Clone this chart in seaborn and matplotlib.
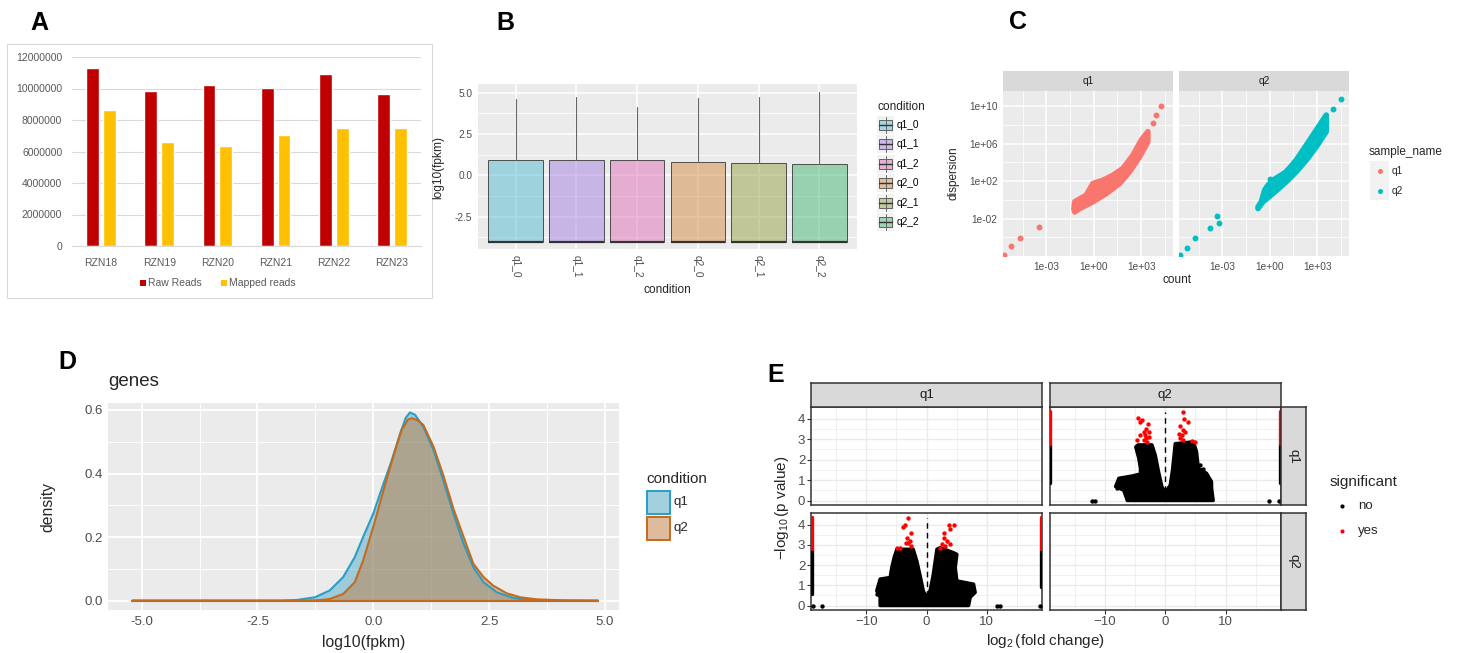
import matplotlib
matplotlib.use("Agg")
import matplotlib.pyplot as plt
from matplotlib.patches import Rectangle
from matplotlib.lines import Line2D
from matplotlib.ticker import FixedLocator, NullFormatter
import numpy as np
import pandas as pd
import seaborn as sns

sns.set_style("white")
plt.rcParams["font.family"] = ["Liberation Sans", "DejaVu Sans"]
plt.rcParams["mathtext.fontset"] = "custom"
plt.rcParams["mathtext.rm"] = "Liberation Sans"
plt.rcParams["mathtext.it"] = "Liberation Sans:italic"
plt.rcParams["mathtext.default"] = "regular"

# ---- panel A: read counts
a_samples = ["RZN18", "RZN19", "RZN20", "RZN21", "RZN22", "RZN23"]
a_raw = [11280000, 9860000, 10200000, 10050000, 10920000, 9630000]
a_mapped = [8630000, 6580000, 6350000, 7030000, 7470000, 7510000]

# ---- panel B: log10(fpkm) boxes
b_conditions = ["q1_0", "q1_1", "q1_2", "q2_0", "q2_1", "q2_2"]
b_q1 = [-4.02, -4.02, -4.02, -4.02, -4.02, -4.02]
b_median = [-4.02, -4.02, -4.02, -4.02, -4.02, -4.02]
b_q3 = [0.91, 0.91, 0.95, 0.83, 0.75, 0.71]
b_whislo = [-4.02, -4.02, -4.02, -4.02, -4.02, -4.02]
b_whishi = [4.62, 4.74, 4.15, 4.66, 4.74, 5.04]
b_colors = ["#53BBD1", "#A581E1", "#E171B9", "#D38B45", "#99A349", "#45B977"]

# ---- panel C: dispersion vs count (log10 units)
c_q1_cloud_x = [-1.25, -1.2, -0.47, -0.05, 0.59, 1.22, 1.85, 2.49, 3.01, 3.43,
                3.43, 2.91, 2.27, 1.64, 0.80, -0.05, -0.89, -1.2]
c_q1_cloud_y = [-1.0, -0.2, 0.5, 1.75, 2.1, 2.64, 3.36, 4.79, 6.39, 7.29,
                6.21, 4.61, 3.0, 1.75, 0.68, -0.21, -0.93, -1.29]
c_q1_pts_x = [-5.68, -5.26, -4.65, -3.46, 3.75, 3.92, 4.24]
c_q1_pts_y = [-5.86, -4.93, -4.07, -2.86, 8.25, 9.07, 10.0]
c_q2_cloud_x = [-0.74, -0.53, -0.32, -0.11, 0.21, 1.05, 1.68, 2.32, 2.95, 3.58,
                3.58, 2.95, 2.32, 1.68, 1.05, 0.21, -0.43, -0.74]
c_q2_cloud_y = [-0.75, -0.21, 1.04, 1.57, 2.11, 3.0, 4.25, 5.86, 7.46, 9.07,
                7.29, 5.68, 4.25, 3.0, 1.93, 0.68, -0.21, -0.93]
c_q2_pts_x = [-5.70, -5.22, -4.75, -3.76, -3.34, -3.21, 4.0, 4.53, 0.0, 1.1]
c_q2_pts_y = [-5.86, -5.11, -4.11, -3.0, -1.75, -2.46, 9.68, 10.79, 2.2, 3.2]

# ---- panel D: density of log10(fpkm)
d_q1_x = [-5.2, -2.0, -1.65, -1.26, -0.94, -0.65, -0.40, -0.22, 0.0, 0.22, 0.40,
          0.58, 0.70, 0.79, 0.90, 1.08, 1.30, 1.51, 1.73, 1.95, 2.16, 2.38, 2.67,
          3.03, 3.38, 3.74, 4.85]
d_q1_y = [0, 0, 0.002, 0.0105, 0.032, 0.074, 0.137, 0.20, 0.274, 0.368, 0.442,
          0.526, 0.575, 0.592, 0.585, 0.547, 0.474, 0.379, 0.274, 0.179, 0.105,
          0.058, 0.026, 0.008, 0.002, 0.0, 0.0]
d_q2_x = [-5.2, -1.5, -1.2, -0.94, -0.65, -0.40, -0.22, 0.0, 0.22, 0.43, 0.61,
          0.75, 0.83, 0.95, 1.08, 1.30, 1.51, 1.73, 1.95, 2.16, 2.38, 2.59, 2.88,
          3.17, 3.53, 4.1, 4.85]
d_q2_y = [0, 0, 0.001, 0.005, 0.021, 0.058, 0.126, 0.232, 0.347, 0.453, 0.537,
          0.570, 0.574, 0.568, 0.553, 0.484, 0.395, 0.289, 0.20, 0.116, 0.074,
          0.047, 0.023, 0.0105, 0.004, 0.001, 0.0]

# ---- panel E: volcano (row q1 / col q2 and row q2 / col q1)
e12_cloud_x = [-6.3, -6.9, -8.25, -7.7, -5.5, -4.12, -4.12, -4.4, -4.9, -4.5,
               -2.2, -1.65, -1.1, -0.55, 0.0, 0.82, 1.2, 1.65, 4.67, 5.2, 5.5,
               6.86, 7.68, 7.7, 7.96]
e12_cloud_y = [0, 0.5, 0.68, 1.09, 1.2, 1.3, 1.57, 2.06, 2.62, 2.72,
               2.72, 2.22, 1.4, 0.68, 0.4, 0.75, 1.5, 2.78, 2.87, 2.38, 1.57,
               1.33, 0.92, 0.6, 0]
e12_black_x = [-12.1, -11.7, 17.2, 18.9, 5.2, 5.8, 6.3, -7.97]
e12_black_y = [0, 0, 0, 0, 1.65, 1.75, 1.55, 0.63]
e12_red_x = [-4.56, -3.85, -4.12, -2.91, -3.13, -2.75, -3.57, -3.3, -2.75, -4.12,
             -4.67, -3.57, -3.02, -3.13, 2.91, 3.19, 3.85, 2.47, 3.02, 2.36, 2.75,
             3.3, 2.47, 3.02, 4.4, 4.95]
e12_red_y = [4.05, 3.95, 3.84, 3.76, 3.51, 3.35, 3.35, 3.19, 3.11, 3.19, 2.95,
             2.95, 2.87, 3.03, 4.32, 4.0, 3.84, 3.63, 3.43, 3.27, 3.19, 3.35,
             3.03, 2.98, 2.9, 2.87]
e12_stripe_x = [-19.05, -19.05, 19.05, 19.05]
e12_stripe_lo = [0.84, 2.78, 0.84, 2.78]
e12_stripe_hi = [2.78, 4.35, 2.78, 4.35]
e12_stripe_sig = ["no", "yes", "no", "yes"]

e21_cloud_x = [-7.72, -7.72, -8.28, -7.72, -6.05, -5.78, -5.39, -4.94, -2.2,
               -1.6, -1.0, -0.5, 0.0, 0.6, 1.1, 1.72, 2.28, 4.5, 5.06, 4.78,
               5.06, 7.83, 8.1, 7.28, 7.0]
e21_cloud_y = [0, 0.41, 0.73, 1.31, 1.39, 1.88, 2.37, 2.78, 2.78, 2.2, 1.4,
               0.7, 0.45, 0.75, 1.5, 2.78, 2.86, 2.61, 2.53, 1.88, 1.22,
               1.06, 0.65, 0.41, 0]
e21_black_x = [-17.4, 11.7, 12.3, -8.28, -18.9, 18.9]
e21_black_y = [0, 0, 0, 0.57, 0, 0]
e21_red_x = [-3.0, -3.94, -3.56, -2.56, -3.28, -2.72, -3.39, -2.61, -4.94, -4.4,
             -3.0, 3.67, 4.5, 3.83, 2.83, 2.94, 3.39, 2.61, 3.11, 3.94, 2.28]
e21_red_y = [4.33, 3.89, 4.0, 3.59, 3.35, 3.18, 3.1, 2.94, 2.86, 2.86, 3.1,
             4.0, 4.0, 3.76, 3.59, 3.35, 3.18, 3.02, 2.94, 3.02, 2.86]
e21_stripe_x = [-19.05, -19.05, 19.05, 19.05]
e21_stripe_lo = [0.57, 2.78, 0.9, 2.78]
e21_stripe_hi = [2.78, 4.35, 2.78, 4.35]
e21_stripe_sig = ["no", "yes", "no", "yes"]
e_vline_x = 0
e_vline_top = 4.32
e_colors = {"no": "black", "yes": "#FF0000"}

# ---------------------------------------------------------------------------
W, H = 1466, 653
fig = plt.figure(figsize=(W / 100, H / 100), dpi=100)


def fx(x):
    return x / W


def fy(y):
    return 1 - y / H


def px_axes(x0, y0, x1, y1):
    return fig.add_axes([fx(x0), fy(y1), (x1 - x0) / W, (y1 - y0) / H])


def ftext(x, y, s, **kw):
    kw.setdefault("ha", "center")
    kw.setdefault("va", "center")
    fig.text(fx(x), fy(y), s, **kw)


def frect(x, y, w, h, **kw):
    fig.add_artist(Rectangle((fx(x), fy(y + h)), w / W, h / H,
                             transform=fig.transFigure, **kw))


def fline(xs, ys, **kw):
    fig.add_artist(Line2D([fx(v) for v in xs], [fy(v) for v in ys],
                          transform=fig.transFigure, **kw))


def gg_ticks(ax, size, grid_color, major_lw=1.1, minor_lw=0.55):
    ax.tick_params(which="major", length=2.6, width=0.8, color="#333333",
                   labelcolor="#4D4D4D", labelsize=size, pad=1.5)
    ax.tick_params(which="minor", length=0)
    ax.grid(True, which="major", color=grid_color, lw=major_lw)
    ax.grid(True, which="minor", color=grid_color, lw=minor_lw)
    ax.set_axisbelow(True)


# panel letters
for letter, lx, ly in [("A", 39, 23), ("B", 505, 23), ("C", 1018, 22),
                       ("D", 67, 362), ("E", 776, 375)]:
    ftext(lx, ly, letter, fontsize=18, fontweight="bold", color="black")

# ---------------- A ----------------
frect(7, 44, 425, 254, fill=False, edgecolor="#D9D9D9", lw=0.8)
axA = px_axes(72, 57, 421, 246)
dfA = pd.DataFrame({"sample": a_samples * 2,
                    "reads": a_raw + a_mapped,
                    "type": ["Raw Reads"] * 6 + ["Mapped reads"] * 6})
sns.barplot(data=dfA, x="sample", y="reads", hue="type",
            palette=["#C00000", "#FFC000"], saturation=1, width=0.58, gap=0.24,
            errorbar=None, legend=False, ax=axA)
axA.set_xlim(-0.5, 5.5)
axA.set_ylim(0, 12000000)
a_ticks = list(range(0, 12000001, 2000000))
axA.set_yticks(a_ticks)
axA.set_yticklabels([str(v) for v in a_ticks])
axA.grid(True, axis="y", color="#D9D9D9", lw=0.8)
axA.set_axisbelow(True)
for s in ["top", "right", "left"]:
    axA.spines[s].set_visible(False)
axA.spines["bottom"].set_color("#D9D9D9")
axA.tick_params(length=0, labelsize=7.5, labelcolor="#595959", pad=7)
axA.tick_params(axis="x", pad=9)
axA.set_xlabel("")
axA.set_ylabel("")
frect(140, 280, 6, 6, color="#C00000", lw=0)
ftext(148, 283, "Raw Reads", ha="left", fontsize=7.5, color="#595959")
frect(221, 280, 6, 6, color="#FFC000", lw=0)
ftext(229, 283, "Mapped reads", ha="left", fontsize=7.5, color="#595959")

# ---------------- B ----------------
axB = px_axes(478, 84, 857, 249)
axB.set_facecolor("#EBEBEB")
stats = [dict(label=c, q1=b_q1[i], med=b_median[i], q3=b_q3[i],
              whislo=b_whislo[i], whishi=b_whishi[i])
         for i, c in enumerate(b_conditions)]
bp = axB.bxp(stats, positions=list(range(6)), widths=0.9, patch_artist=True,
             showfliers=False, showcaps=False,
             boxprops=dict(edgecolor="#4D4D4D", lw=0.7),
             medianprops=dict(color="#333333", lw=1.6),
             whiskerprops=dict(color="#666666", lw=0.8))
for patch, col in zip(bp["boxes"], b_colors):
    patch.set_facecolor(matplotlib.colors.to_rgba(col, 0.5))
axB.set_xlim(-0.62, 5.62)
axB.set_ylim(-4.46, 5.52)
axB.set_yticks([-2.5, 0.0, 2.5, 5.0])
axB.set_yticklabels(["-2.5", "0.0", "2.5", "5.0"])
axB.yaxis.set_minor_locator(FixedLocator([-3.75, -1.25, 1.25, 3.75]))
axB.set_xticks(list(range(6)))
axB.set_xticklabels(b_conditions, rotation=270, va="top", ha="center")
for s in axB.spines.values():
    s.set_visible(False)
gg_ticks(axB, 7.3, "white")
ftext(438, 167, "log10(fpkm)", rotation=90, fontsize=8.6)
ftext(667, 290, "condition", fontsize=8.6)
ftext(877, 107, "condition", ha="left", fontsize=8.6)
for i, (c, col) in enumerate(zip(b_conditions, b_colors)):
    yc = 125 + i * 19.4
    frect(877, yc - 9, 17, 18, color="#F2F2F2", lw=0)
    fline([885.5, 885.5], [yc - 8, yc + 8], color="#666666", lw=0.7)
    frect(879, yc - 5, 13, 10, facecolor=matplotlib.colors.to_rgba(col, 0.5),
          edgecolor="#4D4D4D", lw=0.6)
    fline([879, 892], [yc, yc], color="#333333", lw=1.0)
    ftext(897, yc, c, ha="left", fontsize=7.3, color="black")

# ---------------- C ----------------
c_sets = [("q1", 1003, 1173, c_q1_cloud_x, c_q1_cloud_y, c_q1_pts_x, c_q1_pts_y, "#F8766D"),
          ("q2", 1179, 1349, c_q2_cloud_x, c_q2_cloud_y, c_q2_pts_x, c_q2_pts_y, "#00BFC4")]
for k, (name, x0, x1, cx, cy, px, py, col) in enumerate(c_sets):
    ax = px_axes(x0, 91, x1, 256)
    ax.set_facecolor("#EBEBEB")
    ax.set_xscale("log")
    ax.set_yscale("log")
    ax.set_xlim(10 ** -5.74, 10 ** 5.02)
    ax.set_ylim(10 ** -6.0, 10 ** 11.64)
    ax.fill(10 ** np.array(cx), 10 ** np.array(cy), color=col, ec=col, lw=4,
            joinstyle="round", zorder=3)
    sns.scatterplot(x=10 ** np.array(px), y=10 ** np.array(py), color=col, s=18,
                    linewidth=0, ax=ax, legend=False, zorder=4)
    ax.xaxis.set_major_locator(FixedLocator([1e-3, 1e0, 1e3]))
    ax.xaxis.set_minor_locator(FixedLocator([10 ** -4.5, 10 ** -1.5, 10 ** 1.5, 10 ** 4.5]))
    ax.yaxis.set_major_locator(FixedLocator([1e-2, 1e2, 1e6, 1e10]))
    ax.yaxis.set_minor_locator(FixedLocator([1e-4, 1e0, 1e4, 1e8]))
    ax.xaxis.set_minor_formatter(NullFormatter())
    ax.yaxis.set_minor_formatter(NullFormatter())
    ax.set_xticklabels(["1e-03", "1e+00", "1e+03"])
    ax.set_yticklabels(["1e-02", "1e+02", "1e+06", "1e+10"])
    for s in ax.spines.values():
        s.set_visible(False)
    gg_ticks(ax, 7.3, "white")
    if k == 1:
        ax.tick_params(axis="y", left=False, labelleft=False)
    sax = px_axes(x0, 71, x1, 91)
    sax.set_facecolor("#D9D9D9")
    sax.set_xticks([])
    sax.set_yticks([])
    for s in sax.spines.values():
        s.set_visible(False)
    sax.text(0.5, 0.5, name, ha="center", va="center", fontsize=7.3,
             color="#1A1A1A", transform=sax.transAxes)
ftext(953, 173, "dispersion", rotation=90, fontsize=8.5)
ftext(1177, 280, "count", fontsize=8.5)
ftext(1369, 152, "sample_name", ha="left", fontsize=8.5)
for i, (name, col) in enumerate([("q1", "#F8766D"), ("q2", "#00BFC4")]):
    yc = 171 + i * 20
    frect(1370, yc - 9.5, 19, 19, color="#F2F2F2", lw=0)
    fig.add_artist(Line2D([fx(1379.5)], [fy(yc)], marker="o", markersize=3.6,
                          color=col, mec="none", transform=fig.transFigure))
    ftext(1392, yc, name, ha="left", fontsize=7.3)

# ---------------- D ----------------
axD = px_axes(108.3, 403.3, 619.3, 610)
axD.set_facecolor("#EBEBEB")
dfD = pd.DataFrame({"x": d_q1_x + d_q2_x, "y": d_q1_y + d_q2_y,
                    "condition": ["q1"] * len(d_q1_x) + ["q2"] * len(d_q2_x)})
d_cols = {"q1": "#2A9DC4", "q2": "#C46A1E"}
for cond in ["q1", "q2"]:
    sub = dfD[dfD["condition"] == cond]
    axD.fill_between(sub["x"], 0, sub["y"], color=d_cols[cond], alpha=0.4, lw=0, zorder=2)
    sns.lineplot(x=sub["x"], y=sub["y"], color=d_cols[cond], lw=1.5, sort=False,
                 estimator=None, ax=axD, legend=False, zorder=3)
    axD.plot([sub["x"].min(), sub["x"].max()], [0, 0], color=d_cols[cond], lw=1.5, zorder=3)
axD.set_xlim(-5.72, 5.31)
axD.set_ylim(-0.0295, 0.621)
axD.set_xticks([-5.0, -2.5, 0.0, 2.5, 5.0])
axD.set_xticklabels(["-5.0", "-2.5", "0.0", "2.5", "5.0"])
axD.xaxis.set_minor_locator(FixedLocator([-3.75, -1.25, 1.25, 3.75]))
axD.set_yticks([0.0, 0.2, 0.4, 0.6])
axD.set_yticklabels(["0.0", "0.2", "0.4", "0.6"])
axD.yaxis.set_minor_locator(FixedLocator([0.1, 0.3, 0.5]))
axD.set_xlabel("")
axD.set_ylabel("")
for s in axD.spines.values():
    s.set_visible(False)
gg_ticks(axD, 9.5, "white", 1.3, 0.65)
ftext(108, 382, "genes", ha="left", fontsize=13.5)
ftext(48, 507, "density", rotation=90, fontsize=11.3)
ftext(364, 643, "log10(fpkm)", fontsize=11.3)
ftext(646, 479, "condition", ha="left", fontsize=11)
for i, cond in enumerate(["q1", "q2"]):
    yt = 491 + i * 26
    frect(646.5, yt, 23.5, 23, facecolor="#F2F2F2", lw=0)
    frect(646.5, yt, 23.5, 23, facecolor=matplotlib.colors.to_rgba(d_cols[cond], 0.4),
          edgecolor=d_cols[cond], lw=1.4)
    ftext(674, yt + 11.5, cond, ha="left", fontsize=9.5)

# ---------------- E ----------------
e_cols = [(811, 1042), (1049.5, 1281)]
e_rows = [(407, 505), (513, 610)]
e_data = {(0, 1): (e12_cloud_x, e12_cloud_y, e12_black_x, e12_black_y, e12_red_x,
                   e12_red_y, e12_stripe_x, e12_stripe_lo, e12_stripe_hi, e12_stripe_sig),
          (1, 0): (e21_cloud_x, e21_cloud_y, e21_black_x, e21_black_y, e21_red_x,
                   e21_red_y, e21_stripe_x, e21_stripe_lo, e21_stripe_hi, e21_stripe_sig)}
for r, (y0, y1) in enumerate(e_rows):
    for c, (x0, x1) in enumerate(e_cols):
        ax = px_axes(x0, y0, x1, y1)
        ax.set_facecolor("white")
        ax.set_xlim(-19.2, 19.2)
        ax.set_ylim(-0.2175, 4.5675)
        ax.set_xticks([-10, 0, 10])
        ax.xaxis.set_minor_locator(FixedLocator([-15, -5, 5, 15]))
        ax.set_yticks([0, 1, 2, 3, 4])
        ax.yaxis.set_minor_locator(FixedLocator([0.5, 1.5, 2.5, 3.5]))
        gg_ticks(ax, 9.5, "#EBEBEB", 1.0, 0.5)
        for s in ax.spines.values():
            s.set_color("#333333")
            s.set_linewidth(1.1)
        ax.tick_params(bottom=(r == 1), labelbottom=(r == 1),
                       left=(c == 0), labelleft=(c == 0))
        if (r, c) in e_data:
            (cx, cy, bx, by, rx, ry, sx, slo, shi, ssig) = e_data[(r, c)]
            ax.fill(cx, cy, color="black", ec="black", lw=2.4, joinstyle="round", zorder=3)
            sns.scatterplot(x=bx, y=by, color="black", s=10, linewidth=0, ax=ax,
                            legend=False, zorder=4)
            sns.scatterplot(x=rx, y=ry, color=e_colors["yes"], s=10, linewidth=0, ax=ax,
                            legend=False, zorder=5)
            lc = ax.vlines(sx, slo, shi, colors=[e_colors[v] for v in ssig], lw=2.4, zorder=5)
            lc.set_capstyle("round")
            ax.vlines([e_vline_x], [0], [e_vline_top], colors="black", lw=1.0,
                      linestyles=(0, (4, 3)), zorder=6)
        ax.set_xlabel("")
        ax.set_ylabel("")
for c, (x0, x1) in enumerate(e_cols):
    sax = px_axes(x0, 383, x1, 407)
    sax.set_facecolor("#D9D9D9")
    sax.set_xticks([])
    sax.set_yticks([])
    for s in sax.spines.values():
        s.set_color("#333333")
        s.set_linewidth(1.1)
    sax.text(0.5, 0.5, ["q1", "q2"][c], ha="center", va="center", fontsize=9.5,
             color="#1A1A1A", transform=sax.transAxes)
for r, (y0, y1) in enumerate(e_rows):
    sax = px_axes(1281, y0, 1306, y1)
    sax.set_facecolor("#D9D9D9")
    sax.set_xticks([])
    sax.set_yticks([])
    for s in sax.spines.values():
        s.set_color("#333333")
        s.set_linewidth(1.1)
    sax.text(0.5, 0.5, ["q1", "q2"][r], ha="center", va="center", fontsize=9.5,
             rotation=270, color="#1A1A1A", transform=sax.transAxes)
ftext(782, 508, r"$-\log_{10}$(p value)", rotation=90, fontsize=11)
ftext(1046, 641, r"$\log_2$(fold change)", fontsize=11)
ftext(1330, 482, "significant", ha="left", fontsize=11)
for i, (lab, col) in enumerate([("no", "black"), ("yes", "#FF0000")]):
    yc = 506 + i * 25
    fig.add_artist(Line2D([fx(1342)], [fy(yc)], marker="o", markersize=3.0,
                          color=col, mec="none", transform=fig.transFigure))
    ftext(1358, yc, lab, ha="left", fontsize=9.5)

fig.savefig("out.png", dpi=100, facecolor="white")
